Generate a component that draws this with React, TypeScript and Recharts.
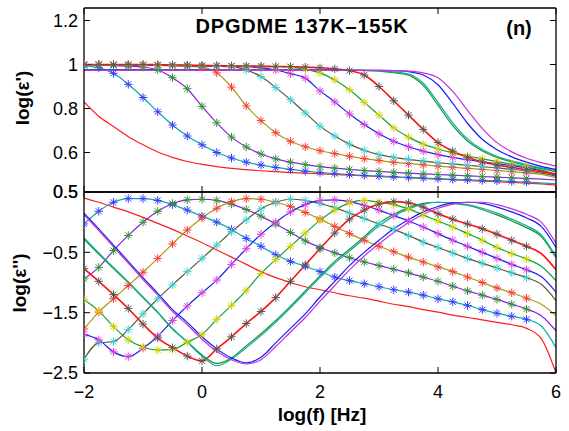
import React from "react";
import { LineChart, Line, XAxis, YAxis } from "recharts";

// log10 frequency grid shared by every curve
const logF = [-2, -1.75, -1.5, -1.25, -1, -0.75, -0.5, -0.25, 0, 0.25, 0.5, 0.75, 1, 1.25, 1.5, 1.75, 2, 2.25, 2.5, 2.75, 3, 3.25, 3.5, 3.75, 4, 4.25, 4.5, 4.75, 5, 5.25, 5.5, 5.75, 6];

// upper panel, log(eps')
const reLow = [0.83, 0.765, 0.718, 0.672, 0.635, 0.602, 0.578, 0.559, 0.546, 0.536, 0.528, 0.522, 0.517, 0.513, 0.509, 0.506, 0.503, 0.5, 0.497, 0.494, 0.491, 0.488, 0.485, 0.482, 0.479, 0.476, 0.473, 0.47, 0.467, 0.464, 0.461, 0.457, 0.452];
const re1 = [0.995, 0.985, 0.96, 0.91, 0.85, 0.785, 0.725, 0.675, 0.635, 0.6, 0.575, 0.556, 0.543, 0.532, 0.523, 0.515, 0.509, 0.504, 0.5, 0.496, 0.493, 0.49, 0.487, 0.484, 0.481, 0.478, 0.476, 0.473, 0.471, 0.468, 0.466, 0.462, 0.458];
const re2 = [0.998, 0.997, 0.995, 0.992, 0.988, 0.975, 0.94, 0.89, 0.81, 0.735, 0.67, 0.625, 0.593, 0.571, 0.556, 0.545, 0.536, 0.529, 0.523, 0.518, 0.514, 0.51, 0.506, 0.503, 0.5, 0.497, 0.494, 0.491, 0.488, 0.485, 0.482, 0.479, 0.475];
const re3 = [1.0, 0.999, 0.998, 0.997, 0.996, 0.995, 0.994, 0.992, 0.988, 0.962, 0.897, 0.812, 0.745, 0.69, 0.651, 0.626, 0.608, 0.595, 0.583, 0.572, 0.564, 0.556, 0.55, 0.544, 0.538, 0.533, 0.528, 0.523, 0.518, 0.513, 0.507, 0.5, 0.486];
const re4 = [1.0, 1.0, 0.999, 0.998, 0.997, 0.996, 0.995, 0.994, 0.993, 0.992, 0.99, 0.975, 0.945, 0.895, 0.84, 0.78, 0.72, 0.675, 0.638, 0.61, 0.59, 0.578, 0.569, 0.561, 0.554, 0.548, 0.542, 0.536, 0.53, 0.524, 0.516, 0.506, 0.492];
const re5 = [1.0, 1.0, 1.0, 0.999, 0.998, 0.997, 0.996, 0.995, 0.994, 0.993, 0.992, 0.99, 0.985, 0.975, 0.958, 0.938, 0.88, 0.83, 0.775, 0.727, 0.685, 0.651, 0.626, 0.606, 0.59, 0.578, 0.567, 0.558, 0.549, 0.54, 0.53, 0.517, 0.497];
const re6 = [1.0, 1.0, 1.0, 1.0, 0.999, 0.998, 0.997, 0.996, 0.995, 0.994, 0.993, 0.992, 0.991, 0.99, 0.987, 0.978, 0.962, 0.93, 0.885, 0.828, 0.77, 0.712, 0.67, 0.638, 0.616, 0.598, 0.584, 0.571, 0.559, 0.547, 0.535, 0.52, 0.5];
const re7 = [1.0, 1.0, 1.0, 1.0, 1.0, 0.999, 0.998, 0.997, 0.996, 0.995, 0.994, 0.993, 0.992, 0.991, 0.99, 0.988, 0.985, 0.98, 0.972, 0.952, 0.9, 0.835, 0.77, 0.705, 0.645, 0.606, 0.578, 0.557, 0.543, 0.532, 0.522, 0.513, 0.502];
const reHot1 = [0.977, 0.977, 0.977, 0.976, 0.976, 0.976, 0.976, 0.976, 0.976, 0.975, 0.975, 0.975, 0.975, 0.975, 0.975, 0.975, 0.975, 0.974, 0.974, 0.973, 0.97, 0.963, 0.952, 0.905, 0.815, 0.722, 0.652, 0.607, 0.578, 0.558, 0.541, 0.527, 0.513];
const reHot2 = [0.976, 0.976, 0.976, 0.976, 0.976, 0.975, 0.975, 0.975, 0.975, 0.975, 0.975, 0.975, 0.975, 0.975, 0.974, 0.974, 0.974, 0.974, 0.973, 0.973, 0.971, 0.966, 0.957, 0.915, 0.828, 0.735, 0.662, 0.614, 0.583, 0.562, 0.545, 0.53, 0.517];
const reHot3 = [0.974, 0.974, 0.974, 0.974, 0.974, 0.974, 0.974, 0.974, 0.974, 0.974, 0.974, 0.974, 0.974, 0.974, 0.974, 0.974, 0.974, 0.974, 0.973, 0.973, 0.973, 0.972, 0.968, 0.952, 0.908, 0.823, 0.733, 0.66, 0.613, 0.58, 0.556, 0.537, 0.523];
const reHot4 = [0.973, 0.973, 0.973, 0.973, 0.973, 0.973, 0.973, 0.973, 0.973, 0.973, 0.973, 0.973, 0.973, 0.973, 0.973, 0.973, 0.973, 0.973, 0.973, 0.973, 0.973, 0.972, 0.97, 0.962, 0.94, 0.878, 0.792, 0.71, 0.645, 0.603, 0.574, 0.554, 0.538];

// lower panel, log(eps'')
const imLow = [0.4, 0.33, 0.25, 0.17, 0.08, -0.02, -0.12, -0.23, -0.34, -0.46, -0.58, -0.7, -0.82, -0.92, -1.0, -1.07, -1.12, -1.17, -1.22, -1.26, -1.31, -1.36, -1.4, -1.45, -1.49, -1.54, -1.58, -1.62, -1.66, -1.7, -1.76, -1.93, -2.5];
const im1 = [-0.03, 0.18, 0.33, 0.39, 0.39, 0.36, 0.29, 0.2, 0.1, 0.0, -0.12, -0.27, -0.4, -0.54, -0.65, -0.73, -0.82, -0.91, -0.97, -1.02, -1.07, -1.12, -1.16, -1.21, -1.27, -1.32, -1.38, -1.45, -1.51, -1.56, -1.61, -1.72, -2.08];
const im2 = [-0.94, -0.75, -0.47, -0.22, 0.0, 0.18, 0.31, 0.37, 0.38, 0.36, 0.3, 0.21, 0.1, -0.03, -0.17, -0.31, -0.42, -0.51, -0.59, -0.66, -0.72, -0.78, -0.84, -0.91, -0.98, -1.06, -1.14, -1.21, -1.28, -1.36, -1.44, -1.55, -1.8];
const im3 = [-1.77, -1.49, -1.27, -1.05, -0.83, -0.6, -0.36, -0.13, 0.07, 0.23, 0.34, 0.39, 0.38, 0.33, 0.26, 0.16, 0.05, -0.07, -0.19, -0.3, -0.4, -0.49, -0.58, -0.66, -0.74, -0.82, -0.91, -1.0, -1.09, -1.17, -1.26, -1.36, -1.55];
const im4 = [-2.27, -2.0, -1.98, -1.78, -1.52, -1.27, -1.04, -0.82, -0.6, -0.38, -0.16, 0.04, 0.22, 0.33, 0.38, 0.36, 0.31, 0.24, 0.15, 0.06, -0.03, -0.12, -0.22, -0.33, -0.42, -0.51, -0.6, -0.68, -0.76, -0.84, -0.92, -1.03, -1.3];
const im5 = [-1.86, -1.95, -2.15, -2.23, -2.09, -1.89, -1.63, -1.39, -1.17, -0.96, -0.7, -0.44, -0.2, 0.0, 0.17, 0.29, 0.36, 0.37, 0.34, 0.28, 0.2, 0.11, 0.02, -0.08, -0.19, -0.3, -0.4, -0.5, -0.6, -0.7, -0.79, -0.9, -1.16];
const im6 = [-1.28, -1.47, -1.73, -1.95, -2.07, -2.12, -2.11, -1.99, -1.86, -1.61, -1.38, -1.13, -0.85, -0.62, -0.4, -0.18, 0.03, 0.2, 0.32, 0.36, 0.33, 0.29, 0.22, 0.12, 0.02, -0.08, -0.19, -0.3, -0.42, -0.52, -0.61, -0.73, -0.97];
const im7 = [-0.77, -0.98, -1.2, -1.43, -1.69, -1.92, -2.08, -2.22, -2.3, -2.1, -1.9, -1.68, -1.48, -1.25, -0.98, -0.71, -0.44, -0.18, 0.05, 0.2, 0.3, 0.34, 0.32, 0.25, 0.14, 0.05, -0.03, -0.11, -0.2, -0.3, -0.4, -0.52, -0.79];
const imHot1 = [-0.28, -0.53, -0.77, -1.0, -1.25, -1.5, -1.77, -1.98, -2.2, -2.34, -2.25, -2.05, -1.85, -1.63, -1.39, -1.14, -0.89, -0.65, -0.45, -0.24, -0.02, 0.13, 0.24, 0.31, 0.33, 0.31, 0.28, 0.21, 0.12, 0.02, -0.09, -0.24, -0.59];
const imHot2 = [-0.26, -0.51, -0.75, -0.99, -1.24, -1.49, -1.76, -1.99, -2.22, -2.38, -2.27, -2.08, -1.88, -1.66, -1.42, -1.17, -0.92, -0.68, -0.48, -0.27, -0.06, 0.1, 0.22, 0.3, 0.33, 0.32, 0.29, 0.23, 0.15, 0.05, -0.06, -0.21, -0.57];
const imHot3 = [0.15, -0.11, -0.38, -0.65, -0.92, -1.18, -1.45, -1.66, -1.9, -2.1, -2.25, -2.33, -2.24, -2.0, -1.76, -1.52, -1.24, -0.98, -0.72, -0.5, -0.3, -0.11, 0.04, 0.17, 0.26, 0.32, 0.33, 0.31, 0.25, 0.17, 0.07, -0.07, -0.42];
const imHot4 = [0.12, -0.14, -0.41, -0.68, -0.95, -1.21, -1.48, -1.7, -1.94, -2.14, -2.28, -2.35, -2.28, -2.06, -1.82, -1.58, -1.31, -1.05, -0.79, -0.56, -0.36, -0.17, -0.01, 0.13, 0.23, 0.3, 0.33, 0.33, 0.29, 0.22, 0.13, 0.0, -0.35];

// measured points (stars) stop here, the fits run to the edge
const starEnd = 5.5;

const xTicks = [-2, 0, 2, 4, 6];
const topTickValues = [0.4205, 0.6, 0.8, 1, 1.2];
const topTickLabels = ["0.5", "0.6", "0.8", "1", "1.2"];
const botTicks = [-2.5, -1.5, -0.5, 0.5];

const curves = [
  { key: "c0", re: reLow, im: imLow, line: "#ff1e1e", star: null },
  { key: "c1", re: re1, im: im1, line: "#10a9a9", star: "#3a3aff" },
  { key: "c2", re: re2, im: im2, line: "#8a22e2", star: "#2f962f" },
  { key: "c3", re: re3, im: im3, line: "#a99a12", star: "#ff3a3a" },
  { key: "c4", re: re4, im: im4, line: "#5a5a3a", star: "#3ad2d2" },
  { key: "c5", re: re5, im: im5, line: "#2222ee", star: "#e040e0" },
  { key: "c6", re: re6, im: im6, line: "#12a032", star: "#d2d200" },
  { key: "c7", re: re7, im: im7, line: "#ff1010", star: "#585858" },
  { key: "c8", re: reHot1, im: imHot1, line: "#0c9a2c", star: null },
  { key: "c9", re: reHot2, im: imHot2, line: "#12aaa2", star: null },
  { key: "c10", re: reHot3, im: imHot3, line: "#1a1aff", star: null },
  { key: "c11", re: reHot4, im: imHot4, line: "#c433d4", star: null },
];

const buildRows = (pick: "re" | "im") =>
  logF.map((x, i) => {
    const row: Record<string, number | null> = { x };
    curves.forEach((c) => {
      row[c.key] = c[pick][i];
      row[c.key + "s"] = c.star && x <= starEnd ? c[pick][i] : null;
    });
    return row;
  });

const topRows = buildRows("re");
const botRows = buildRows("im");

const minus = (v: number) => String(v).replace("-", "\u2212");

function starDot(color: string) {
  return (p: any) => {
    const { cx, cy, index } = p;
    if (cx == null || cy == null) return <g key={index} />;
    const r = 4.2;
    const d = 3;
    return (
      <path
        key={index}
        d={`M${cx - r},${cy}H${cx + r}M${cx},${cy - r}V${cy + r}M${cx - d},${cy - d}L${cx + d},${cy + d}M${cx - d},${cy + d}L${cx + d},${cy - d}`}
        stroke={color}
        strokeWidth={1}
        fill="none"
      />
    );
  };
}

const series = () =>
  curves.flatMap((c) => [
    c.star ? (
      <Line
        key={c.key + "s"}
        xAxisId="b"
        yAxisId="l"
        dataKey={c.key + "s"}
        stroke="none"
        dot={starDot(c.star)}
        activeDot={false}
        isAnimationActive={false}
      />
    ) : null,
    <Line
      key={c.key}
      xAxisId="b"
      yAxisId="l"
      type="monotone"
      dataKey={c.key}
      stroke={c.line}
      strokeWidth={c.key === "c7" ? 1.6 : 1.2}
      dot={false}
      activeDot={false}
      isAnimationActive={false}
    />,
  ]);

const axisLine = { stroke: "#000", strokeWidth: 1.3 };
const tickLine = { stroke: "#000", strokeWidth: 1 };
const tickFont = { fill: "#000", fontSize: 18 };
const blank = () => "";

function Frame({ yDomain, yTicks, yFormat, showX }: any) {
  return [
    <XAxis
      key="xb"
      xAxisId="b"
      dataKey="x"
      type="number"
      domain={[-2, 6]}
      allowDataOverflow
      ticks={xTicks}
      interval={0}
      height={showX ? 40 : 1}
      tickSize={-6}
      tickMargin={showX ? 18 : 0}
      tick={tickFont}
      tickFormatter={showX ? minus : blank}
      axisLine={axisLine}
      tickLine={tickLine}
    />,
    <XAxis
      key="xt"
      xAxisId="t"
      orientation="top"
      dataKey="x"
      type="number"
      domain={[-2, 6]}
      allowDataOverflow
      ticks={xTicks}
      interval={0}
      height={1}
      tickSize={-6}
      tickFormatter={blank}
      axisLine={axisLine}
      tickLine={tickLine}
    />,
    <YAxis
      key="yl"
      yAxisId="l"
      type="number"
      domain={yDomain}
      allowDataOverflow
      ticks={yTicks}
      interval={0}
      width={84}
      tickSize={-6}
      tickMargin={12}
      tick={tickFont}
      tickFormatter={yFormat}
      axisLine={axisLine}
      tickLine={tickLine}
    />,
    <YAxis
      key="yr"
      yAxisId="r"
      orientation="right"
      type="number"
      domain={yDomain}
      allowDataOverflow
      ticks={yTicks}
      interval={0}
      width={1}
      tickSize={-6}
      tickFormatter={blank}
      axisLine={axisLine}
      tickLine={tickLine}
    />,
  ];
}

export default function App() {
  const topDomain = [0.4205, 1.2568];
  const botDomain = [-2.5, 0.5];
  const topFormat = (v: number) => topTickLabels[topTickValues.indexOf(v)] ?? "";
  return (
    <div
      style={{
        position: "absolute",
        left: 0,
        top: 0,
        width: 569,
        height: 431,
        background: "#fff",
        fontFamily: "'Liberation Sans', Arial, sans-serif",
      }}
    >
      <div style={{ position: "absolute", left: 0, top: 0 }}>
        <LineChart width={569} height={431} data={botRows} margin={{ top: 191, right: 12, bottom: 18, left: 0 }}>
          {Frame({ yDomain: botDomain, yTicks: botTicks, yFormat: minus, showX: true })}
          {series()}
        </LineChart>
      </div>
      <div style={{ position: "absolute", left: 0, top: 0 }}>
        <LineChart width={569} height={205} data={topRows} margin={{ top: 7, right: 12, bottom: 12, left: 0 }}>
          {Frame({ yDomain: topDomain, yTicks: topTickValues, yFormat: topFormat, showX: false })}
          {series()}
        </LineChart>
      </div>
      <svg width={569} height={431} style={{ position: "absolute", left: 0, top: 0, pointerEvents: "none" }}>
        <g fontWeight="bold" fill="#000" textAnchor="middle" dominantBaseline="central">
          <text x={302} y={26} fontSize={20} letterSpacing={0.8}>
            DPGDME 137K–155K
          </text>
          <text x={519} y={28} fontSize={20}>
            (n)
          </text>
          <text transform="translate(22,98) rotate(-90)" fontSize={19}>
            log(ε')
          </text>
          <text transform="translate(19,283) rotate(-90)" fontSize={19}>
            log(ε'')
          </text>
          <text x={322} y={414} fontSize={19}>
            log(f) [Hz]
          </text>
        </g>
      </svg>
    </div>
  );
}
